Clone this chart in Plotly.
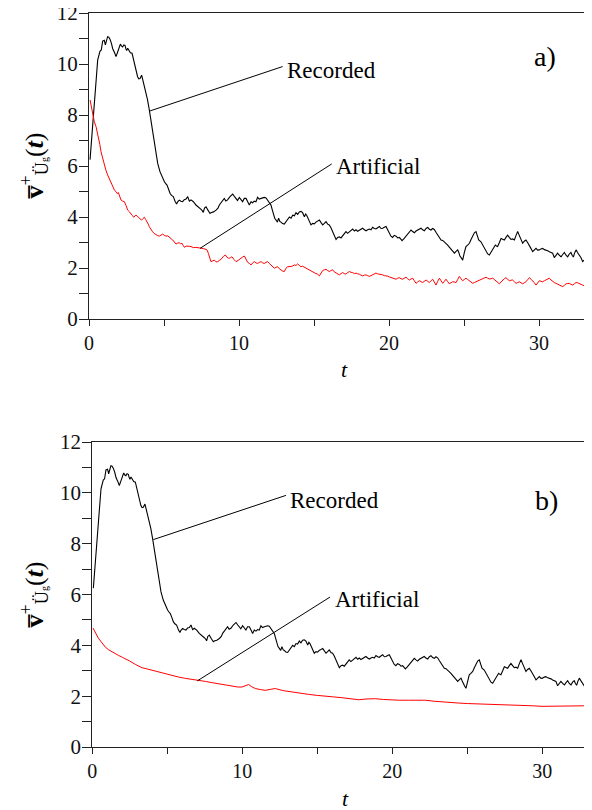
import plotly.graph_objects as go

# ---------------- data ----------------
rec_t = [0.07,0.2,0.36,0.5,0.58,0.73,0.82,0.91,1.02,1.09,1.17,1.24,1.32,1.4,1.5,1.58,1.7,1.8,1.91,2.0,
         2.09,2.17,2.24,2.32,2.4,2.46,2.51,2.58,2.64,2.7,2.76,2.87,2.95,3.02,3.13,3.24,3.32,3.4,3.51,3.62,
         3.7,3.8,3.9,4.02,4.1,4.2,4.3,4.4,4.5,4.58,4.73,4.85,5.02,5.1,5.2,5.3,5.4,5.5,5.62,5.75,
         5.84,5.92,6.02,6.13,6.24,6.35,6.47,6.58,6.69,6.8,6.96,7.13,7.3,7.47,7.55,7.62,7.7,7.8,7.95,8.07,
         8.13,8.3,8.47,8.6,8.69,8.85,8.96,9.02,9.12,9.24,9.4,9.58,9.7,9.8,9.9,10.02,10.12,10.24,10.35,10.47,
         10.58,10.69,10.8,10.91,11.02,11.13,11.24,11.35,11.47,11.58,11.69,11.8,11.91,12.02,12.13,12.21,12.29,12.38,12.47,12.56,
         12.64,12.73,12.8,12.9,13.02,13.13,13.24,13.36,13.47,13.58,13.69,13.8,13.91,14.02,14.13,14.24,14.36,14.44,14.51,14.65,
         14.8,14.91,15.02,15.13,15.25,15.36,15.47,15.58,15.69,15.8,15.91,16.02,16.13,16.24,16.35,16.47,16.58,16.69,16.8,16.91,
         17.02,17.13,17.24,17.36,17.47,17.58,17.69,17.8,17.91,18.02,18.13,18.24,18.36,18.47,18.58,18.69,18.8,18.91,19.02,19.13,
         19.24,19.36,19.47,19.58,19.69,19.8,19.91,20.02,20.13,20.24,20.35,20.47,20.58,20.69,20.8,20.87,21.0,21.13,21.24,21.36,
         21.47,21.58,21.69,21.8,21.91,22.02,22.13,22.24,22.36,22.47,22.58,22.69,22.8,22.91,23.02,23.13,23.24,23.36,23.47,23.58,
         23.69,23.8,23.91,24.02,24.13,24.24,24.36,24.47,24.58,24.66,24.73,24.82,24.91,25.02,25.13,25.24,25.36,25.47,25.58,25.69,
         25.8,25.9,25.98,26.13,26.24,26.36,26.47,26.58,26.69,26.8,26.91,27.0,27.09,27.17,27.24,27.36,27.47,27.58,27.69,27.8,
         27.91,28.02,28.13,28.24,28.36,28.47,28.58,28.67,28.76,28.84,28.91,29.02,29.13,29.24,29.36,29.47,29.58,29.69,29.8,29.91,
         30.02,30.13,30.24,30.36,30.47,30.58,30.69,30.8,30.91,31.02,31.13,31.24,31.36,31.47,31.58,31.69,31.8,31.91,32.02,32.13,
         32.21,32.29,32.38,32.47,32.58,32.69,32.8,32.91,33.02,33.13,33.24,33.36,33.53]
rec_v = [6.25,7.2,8.46,9.6,10.16,10.5,10.55,10.9,10.93,10.75,10.95,11.07,11.05,10.97,10.8,10.6,10.45,10.29,10.47,10.6,
         10.78,10.7,10.67,10.75,10.73,10.6,10.53,10.62,10.56,10.5,10.44,10.42,10.2,10.03,9.7,9.5,9.42,9.43,9.56,9.31,
         9.15,8.92,8.6,8.2,7.9,7.54,7.15,6.76,6.4,6.1,5.78,5.6,5.39,5.32,5.25,5.1,4.93,4.85,4.8,4.6,
         4.51,4.6,4.66,4.62,4.6,4.68,4.7,4.8,4.62,4.67,4.6,4.47,4.4,4.3,4.25,4.18,4.35,4.4,4.25,4.14,
         4.17,4.2,4.27,4.35,4.47,4.6,4.67,4.73,4.63,4.67,4.8,4.9,4.8,4.73,4.65,4.77,4.7,4.6,4.73,4.73,
         4.6,4.47,4.6,4.56,4.62,4.6,4.77,4.7,4.73,4.74,4.77,4.75,4.67,4.58,4.47,4.3,4.14,3.95,3.88,3.8,
         3.95,3.82,3.8,3.74,3.72,3.8,3.9,4.0,3.95,4.07,4.05,4.17,4.1,4.2,4.22,4.17,4.01,4.12,4.07,3.85,
         3.69,3.75,3.73,3.8,3.85,3.88,3.78,3.69,3.75,3.82,3.72,3.69,3.58,3.43,3.25,3.12,3.2,3.22,3.18,3.28,
         3.35,3.43,3.36,3.43,3.48,3.53,3.45,3.5,3.44,3.47,3.52,3.56,3.5,3.46,3.5,3.53,3.5,3.6,3.55,3.53,
         3.58,3.63,3.55,3.56,3.6,3.63,3.5,3.35,3.25,3.2,3.28,3.25,3.18,3.2,3.12,3.07,3.15,3.25,3.32,3.42,
         3.49,3.43,3.38,3.45,3.49,3.52,3.56,3.5,3.46,3.55,3.59,3.52,3.49,3.55,3.51,3.4,3.29,3.2,3.1,3.08,
         3.03,2.98,2.9,2.82,2.73,2.65,2.58,2.65,2.71,2.6,2.47,2.4,2.31,2.6,2.84,2.9,2.97,3.12,3.29,3.38,
         3.43,3.25,3.1,3.03,2.9,2.77,2.65,2.55,2.51,2.62,2.77,2.85,2.9,2.86,2.84,3.0,3.16,3.13,3.1,3.2,
         3.29,3.2,3.12,3.14,3.1,3.28,3.43,3.3,3.16,3.05,2.97,3.05,3.1,3.0,2.9,2.76,2.64,2.72,2.77,2.7,
         2.71,2.75,2.77,2.72,2.71,2.68,2.64,2.62,2.58,2.41,2.5,2.58,2.5,2.44,2.53,2.61,2.5,2.44,2.55,2.61,
         2.5,2.43,2.6,2.71,2.6,2.51,2.4,2.25,2.3,2.38,2.3,2.25,2.18]

art_a_t = [0.07,0.15,0.24,0.35,0.47,0.55,0.64,0.72,0.8,0.9,1.02,1.12,1.24,1.35,1.47,1.55,1.62,1.7,1.8,1.88,
           1.96,2.05,2.13,2.25,2.36,2.47,2.58,2.7,2.8,2.9,2.98,3.05,3.13,3.22,3.31,3.41,3.51,3.6,3.69,3.78,
           3.87,3.95,4.02,4.13,4.24,4.35,4.47,4.58,4.69,4.8,4.91,5.02,5.13,5.25,5.36,5.47,5.58,5.69,5.8,5.91,
           6.02,6.11,6.2,6.28,6.36,6.47,6.58,6.69,6.8,6.96,7.13,7.3,7.47,7.62,7.8,7.88,7.96,8.05,8.13,8.25,
           8.36,8.47,8.58,8.69,8.8,8.95,9.09,9.2,9.31,9.42,9.53,9.67,9.8,9.95,10.09,10.22,10.36,10.47,10.58,10.69,
           10.8,10.91,11.02,11.13,11.24,11.35,11.47,11.58,11.69,11.8,11.91,12.02,12.13,12.24,12.36,12.47,12.58,12.69,12.8,12.91,
           13.02,13.13,13.24,13.36,13.47,13.58,13.69,13.8,13.91,14.02,14.13,14.24,14.36,14.47,14.58,14.69,14.8,14.91,15.02,15.13,
           15.24,15.36,15.47,15.58,15.69,15.8,15.91,16.02,16.13,16.24,16.35,16.47,16.58,16.69,16.8,16.91,17.02,17.13,17.24,17.36,
           17.47,17.58,17.69,17.8,17.91,18.02,18.13,18.24,18.36,18.47,18.58,18.69,18.8,18.91,19.02,19.13,19.24,19.36,19.47,19.58,
           19.69,19.8,19.91,20.02,20.13,20.24,20.35,20.47,20.58,20.69,20.8,20.91,21.02,21.13,21.24,21.36,21.47,21.58,21.69,21.8,
           21.91,22.02,22.13,22.24,22.36,22.47,22.58,22.69,22.8,22.91,23.02,23.13,23.24,23.36,23.47,23.58,23.69,23.8,23.91,24.02,
           24.13,24.24,24.36,24.47,24.58,24.69,24.8,24.91,25.02,25.13,25.24,25.36,25.47,25.58,25.69,25.8,25.91,26.02,26.13,26.24,
           26.36,26.47,26.58,26.69,26.8,26.91,27.02,27.13,27.24,27.36,27.47,27.58,27.69,27.8,27.91,28.02,28.13,28.24,28.36,28.47,
           28.58,28.69,28.8,28.91,29.02,29.13,29.24,29.36,29.47,29.58,29.69,29.8,29.91,30.02,30.13,30.24,30.36,30.47,30.58,30.69,
           30.8,30.91,31.02,31.13,31.24,31.36,31.47,31.58,31.69,31.8,31.91,32.02,32.13,32.24,32.36,32.47,32.58,32.69,32.8,32.91,
           33.02,33.13,33.24,33.36,33.53]
art_a_v = [8.59,8.3,8.0,7.75,7.54,7.35,7.15,6.85,6.56,6.3,6.1,5.85,5.65,5.5,5.33,5.2,5.12,5.05,5.0,4.92,
           4.96,4.8,4.67,4.62,4.6,4.45,4.27,4.2,4.14,4.05,3.99,4.05,4.08,4.02,3.99,3.92,3.88,3.94,3.99,3.9,
           3.82,3.72,3.62,3.5,3.42,3.35,3.29,3.27,3.25,3.3,3.33,3.28,3.25,3.26,3.22,3.15,3.1,3.0,2.94,2.98,
           2.99,2.95,2.97,2.88,2.81,2.86,2.84,2.85,2.84,2.8,2.81,2.8,2.78,2.76,2.73,2.7,2.57,2.35,2.25,2.28,
           2.31,2.24,2.25,2.3,2.34,2.45,2.51,2.42,2.38,2.4,2.44,2.33,2.25,2.3,2.38,2.42,2.47,2.35,2.22,2.18,
           2.12,2.2,2.25,2.2,2.18,2.22,2.25,2.2,2.18,2.22,2.25,2.18,2.12,2.05,1.99,2.03,2.05,1.97,1.92,1.88,
           1.86,1.99,2.05,2.05,2.06,2.08,2.12,2.1,2.16,2.1,2.05,2.07,2.03,1.98,1.95,1.93,1.9,1.86,1.82,1.78,
           1.76,1.69,1.8,1.9,1.93,1.95,1.9,1.86,1.9,1.93,1.85,1.8,1.76,1.73,1.78,1.82,1.78,1.76,1.82,1.86,
           1.83,1.82,1.78,1.8,1.77,1.76,1.72,1.69,1.72,1.73,1.7,1.67,1.7,1.73,1.76,1.8,1.77,1.76,1.74,1.73,
           1.7,1.7,1.68,1.65,1.62,1.6,1.58,1.56,1.6,1.62,1.58,1.56,1.6,1.64,1.58,1.53,1.57,1.6,1.5,1.4,
           1.45,1.5,1.47,1.43,1.48,1.53,1.48,1.43,1.5,1.56,1.45,1.33,1.47,1.6,1.5,1.4,1.48,1.56,1.47,1.38,
           1.42,1.46,1.45,1.43,1.55,1.67,1.58,1.5,1.55,1.6,1.55,1.5,1.45,1.4,1.43,1.46,1.48,1.5,1.53,1.56,
           1.6,1.64,1.6,1.57,1.58,1.6,1.55,1.5,1.44,1.38,1.45,1.53,1.58,1.62,1.56,1.5,1.52,1.53,1.46,1.4,
           1.43,1.46,1.42,1.38,1.42,1.46,1.54,1.62,1.56,1.5,1.42,1.33,1.42,1.5,1.48,1.46,1.5,1.53,1.57,1.6,
           1.53,1.46,1.43,1.4,1.36,1.33,1.3,1.27,1.32,1.38,1.39,1.4,1.36,1.33,1.38,1.43,1.42,1.4,1.36,1.33,
           1.3,1.27,1.32,1.38,1.4]

art_b_t = [0.05,0.09,0.25,0.43,0.65,0.87,1.1,1.31,1.55,1.76,2.0,2.2,2.5,2.87,3.1,3.31,3.6,3.98,4.4,4.87,
           5.3,5.76,6.2,6.65,7.1,7.54,8.0,8.43,8.9,9.31,9.7,9.98,10.2,10.42,10.6,10.87,11.2,11.53,11.9,12.2,
           12.7,13.31,13.9,14.42,15.0,15.53,16.1,16.64,17.2,17.76,18.3,18.87,19.4,19.98,20.5,21.1,21.6,22.2,22.8,23.3,
           23.9,24.4,25.0,25.5,26.1,26.65,27.2,27.76,28.3,28.87,29.4,29.98,30.5,31.1,31.6,32.2,32.7,33.2,33.4]
art_b_v = [4.68,4.62,4.45,4.26,4.08,3.93,3.82,3.74,3.66,3.6,3.53,3.48,3.38,3.25,3.18,3.12,3.08,3.02,2.95,2.86,
           2.8,2.75,2.7,2.65,2.62,2.58,2.53,2.49,2.44,2.39,2.36,2.36,2.4,2.46,2.38,2.3,2.26,2.23,2.27,2.3,
           2.22,2.16,2.11,2.07,2.03,1.99,1.97,1.94,1.9,1.86,1.89,1.9,1.87,1.84,1.84,1.84,1.84,1.84,1.8,1.77,
           1.75,1.73,1.71,1.7,1.69,1.68,1.68,1.68,1.66,1.64,1.62,1.6,1.6,1.6,1.6,1.6,1.62,1.64,1.63]

y_ticks = [0, 2, 4, 6, 8, 10, 12]
x_ticks = [0, 10, 20, 30]
panel_labels = ["a)", "b)"]
series_names = ["Recorded", "Artificial"]

# ---------------- layout helpers ----------------
# the page adds an 8px body margin, so the figure is drawn 8px smaller and shifted
OFF = 8
W, H = 592 - OFF, 810 - OFF
FONT = "Liberation Serif, Times New Roman, serif"

def px_x(p):
    return (p - OFF) / W

def px_y(p):
    return 1 - (p - OFF) / H

fig = go.Figure()
fig.add_trace(go.Scatter(x=rec_t, y=rec_v, mode="lines", line=dict(color="black", width=1.1),
                         xaxis="x", yaxis="y", showlegend=False))
fig.add_trace(go.Scatter(x=art_a_t, y=art_a_v, mode="lines", line=dict(color="#ff0000", width=1),
                         xaxis="x", yaxis="y", showlegend=False))
fig.add_trace(go.Scatter(x=rec_t, y=rec_v, mode="lines", line=dict(color="black", width=1.1),
                         xaxis="x2", yaxis="y2", showlegend=False))
fig.add_trace(go.Scatter(x=art_b_t, y=art_b_v, mode="lines", line=dict(color="#ff0000", width=1),
                         xaxis="x2", yaxis="y2", showlegend=False))

axcol = "#222222"

def xax(domain, rng, anchor):
    return dict(domain=domain, range=rng, anchor=anchor, showgrid=False, zeroline=False,
                showline=True, linecolor=axcol, linewidth=1, mirror=True,
                ticks="outside", ticklen=6, tickcolor=axcol, tickwidth=1,
                tickvals=x_ticks, ticktext=[str(v) for v in x_ticks],
                minor=dict(dtick=5, ticks="outside", ticklen=6, tickcolor=axcol, tickwidth=1),
                tickfont=dict(family=FONT, size=20, color="#111"), automargin=False,
                ticklabeloverflow="allow")

def yax(domain, anchor):
    return dict(domain=domain, range=[0, 12], anchor=anchor, showgrid=False, zeroline=False,
                showline=True, linecolor=axcol, linewidth=1,
                ticks="outside", ticklen=6, tickcolor=axcol, tickwidth=1,
                tickvals=y_ticks, ticktext=[str(v) for v in y_ticks],
                minor=dict(dtick=1, ticks="outside", ticklen=9, tickcolor=axcol, tickwidth=1),
                tickfont=dict(family=FONT, size=21, color="#111"), automargin=False,
                ticklabeloverflow="allow")

top_x0, top_y0, top_y1 = 89, 13, 319
bot_x0, bot_y0, bot_y1 = 92.3, 442, 747
pxu = 15.0

fig.update_layout(
    width=W, height=H, margin=dict(l=0, r=0, t=0, b=0),
    paper_bgcolor="white", plot_bgcolor="white",
    xaxis=xax([px_x(top_x0), 1], [0, (592 - top_x0) / pxu], "y"),
    yaxis=yax([px_y(top_y1), px_y(top_y0)], "x"),
    xaxis2=xax([px_x(bot_x0), 1], [0, (592 - bot_x0) / pxu], "y2"),
    yaxis2=yax([px_y(bot_y1), px_y(bot_y0)], "x2"),
)

# annotation geometry: (line start t, v), (line end t, v), text anchor (t, v)
rec_lines = [((4.07, 8.16), (12.91, 9.9), (13.05, 9.73)),
             ((4.07, 8.16), (12.91, 9.9), (13.05, 9.7))]
art_lines = [((7.4, 2.77), (16.18, 6.08), (16.35, 5.98)),
             ((7.0, 2.6), (15.85, 5.9), (16.05, 5.8))]
label_pos = [(30.4, 10.3), (30.25, 9.7)]
axes_refs = [("x", "y"), ("x2", "y2")]

for i, (xr, yr) in enumerate(axes_refs):
    for (s, e, tp), name in ((rec_lines[i], series_names[0]), (art_lines[i], series_names[1])):
        fig.add_shape(type="line", xref=xr, yref=yr, x0=s[0], y0=s[1], x1=e[0], y1=e[1],
                      line=dict(color="black", width=1))
        fig.add_annotation(xref=xr, yref=yr, x=tp[0], y=tp[1], text=name, showarrow=False,
                           xanchor="left", yanchor="middle",
                           font=dict(family=FONT, size=23, color="black"))
    fig.add_annotation(xref=xr, yref=yr, x=label_pos[i][0], y=label_pos[i][1], text=panel_labels[i],
                       showarrow=False, xanchor="center", yanchor="middle",
                       font=dict(family=FONT, size=28, color="black"))

ylab = ("<b>v\u0305</b><sup>+</sup><sub>\u00dc<span style='font-size:10px'>g</span></sub>"
        "(<b><i>t</i></b>)")
for yc in (166, 595):
    fig.add_annotation(xref="paper", yref="paper", x=px_x(34), y=px_y(yc), text=ylab, textangle=-90,
                       showarrow=False, xanchor="center", yanchor="middle",
                       font=dict(family=FONT, size=26, color="black"))
for xc, yc in ((344, 369), (345, 798)):
    fig.add_annotation(xref="paper", yref="paper", x=px_x(xc), y=px_y(yc), text="<i>t</i>",
                       showarrow=False, xanchor="center", yanchor="middle",
                       font=dict(family=FONT, size=22, color="black"))

fig.write_html("out.html")
